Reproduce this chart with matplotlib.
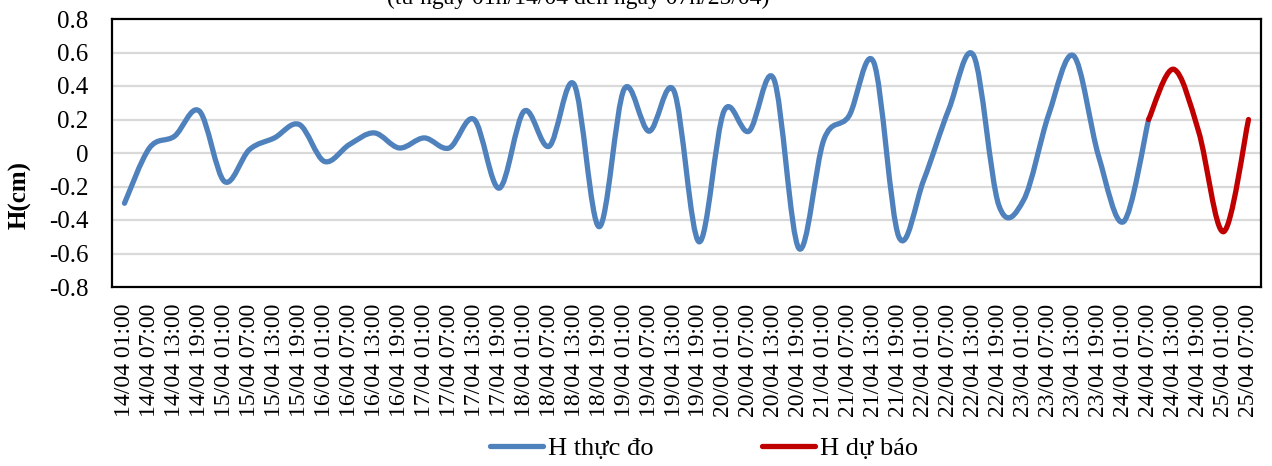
import matplotlib
matplotlib.use("Agg")
import matplotlib.pyplot as plt
from matplotlib.path import Path
from matplotlib.patches import PathPatch
from matplotlib.lines import Line2D

plt.rcParams['font.family'] = ['Liberation Serif', 'DejaVu Serif']

# 6-hourly time labels
days = ["14/04", "15/04", "16/04", "17/04", "18/04", "19/04",
        "20/04", "21/04", "22/04", "23/04", "24/04", "25/04"]
hours = ["01:00", "07:00", "13:00", "19:00"]
labels = [f"{d} {h}" for d in days for h in hours][:46]

# Observed water level (cm), indices 0..41
h_observed = [-0.30, 0.03, 0.10, 0.25, -0.17, 0.02, 0.09, 0.17, -0.05, 0.05,
              0.12, 0.03, 0.09, 0.03, 0.20, -0.21, 0.25, 0.04, 0.41, -0.44,
              0.38, 0.13, 0.37, -0.53, 0.25, 0.13, 0.44, -0.57, 0.08, 0.22,
              0.54, -0.50, -0.16, 0.26, 0.58, -0.31, -0.28, 0.23, 0.58, -0.02,
              -0.41, 0.20]
# Forecast water level (cm), indices 41..45
h_forecast = [0.20, 0.50, 0.13, -0.47, 0.20]
forecast_start = 41

BLUE = "#4F81BD"
RED = "#C00000"


def smooth_path(xs, ys):
    """Cubic Bezier path through the points (Catmull-Rom style smoothing)."""
    pts = list(zip(xs, ys))
    n = len(pts)
    verts = [pts[0]]
    codes = [Path.MOVETO]
    for i in range(n - 1):
        p0 = pts[i - 1] if i > 0 else pts[i]
        p1 = pts[i]
        p2 = pts[i + 1]
        p3 = pts[i + 2] if i + 2 < n else pts[i + 1]
        c1 = (p1[0] + (p2[0] - p0[0]) / 6.0, p1[1] + (p2[1] - p0[1]) / 6.0)
        c2 = (p2[0] - (p3[0] - p1[0]) / 6.0, p2[1] - (p3[1] - p1[1]) / 6.0)
        verts += [c1, c2, p2]
        codes += [Path.CURVE4] * 3
    return Path(verts, codes)


fig = plt.figure(figsize=(12.72, 4.66), dpi=100)
ax = fig.add_axes([112 / 1272, 1 - 287 / 466, 1149 / 1272, 268 / 466])

x_obs = list(range(len(h_observed)))
x_fc = list(range(forecast_start, forecast_start + len(h_forecast)))

for xs, ys, col in [(x_obs, h_observed, BLUE), (x_fc, h_forecast, RED)]:
    patch = PathPatch(smooth_path(xs, ys), facecolor="none", edgecolor=col,
                      lw=3.8, capstyle="round", joinstyle="round", zorder=3)
    ax.add_patch(patch)

ax.set_xlim(-0.5, len(labels) - 0.5)
ax.set_ylim(-0.8, 0.8)
ax.set_yticks([-0.8, -0.6, -0.4, -0.2, 0, 0.2, 0.4, 0.6, 0.8])
ax.set_yticklabels(["-0.8", "-0.6", "-0.4", "-0.2", "0", "0.2", "0.4", "0.6", "0.8"])
ax.set_xticks(range(len(labels)))
ax.set_xticklabels(labels, rotation=90)
ax.tick_params(axis="y", length=0, pad=17, labelsize=18)
ax.tick_params(axis="x", length=0, pad=12, labelsize=17)

for v in [-0.6, -0.4, -0.2, 0, 0.2, 0.4, 0.6]:
    ax.axhline(v, color="#D9D9D9", lw=1.6, zorder=1)

for s in ax.spines.values():
    s.set_linewidth(1.6)
    s.set_color("black")

fig.text(20 / 1272, 1 - 195 / 466, "H(cm)", rotation=90, ha="center",
         va="center", fontsize=18, fontweight="bold")

fig.text(578 / 1272, 1 - 4 / 466, "(từ ngày 01h/14/04 đến ngày 07h/25/04)",
         ha="center", va="baseline", fontsize=17)

handles = [Line2D([], [], color=BLUE, lw=3.8, solid_capstyle="round"),
           Line2D([], [], color=RED, lw=3.8, solid_capstyle="round")]
fig.legend(handles, ["H thực đo", "H dự báo"], loc="center",
           bbox_to_anchor=(704 / 1272, 1 - 448 / 466), ncol=2, frameon=False,
           fontsize=19, handlelength=2.0, handletextpad=0.2, columnspacing=4.1,
           borderaxespad=0)

fig.savefig("out.png", dpi=100)
